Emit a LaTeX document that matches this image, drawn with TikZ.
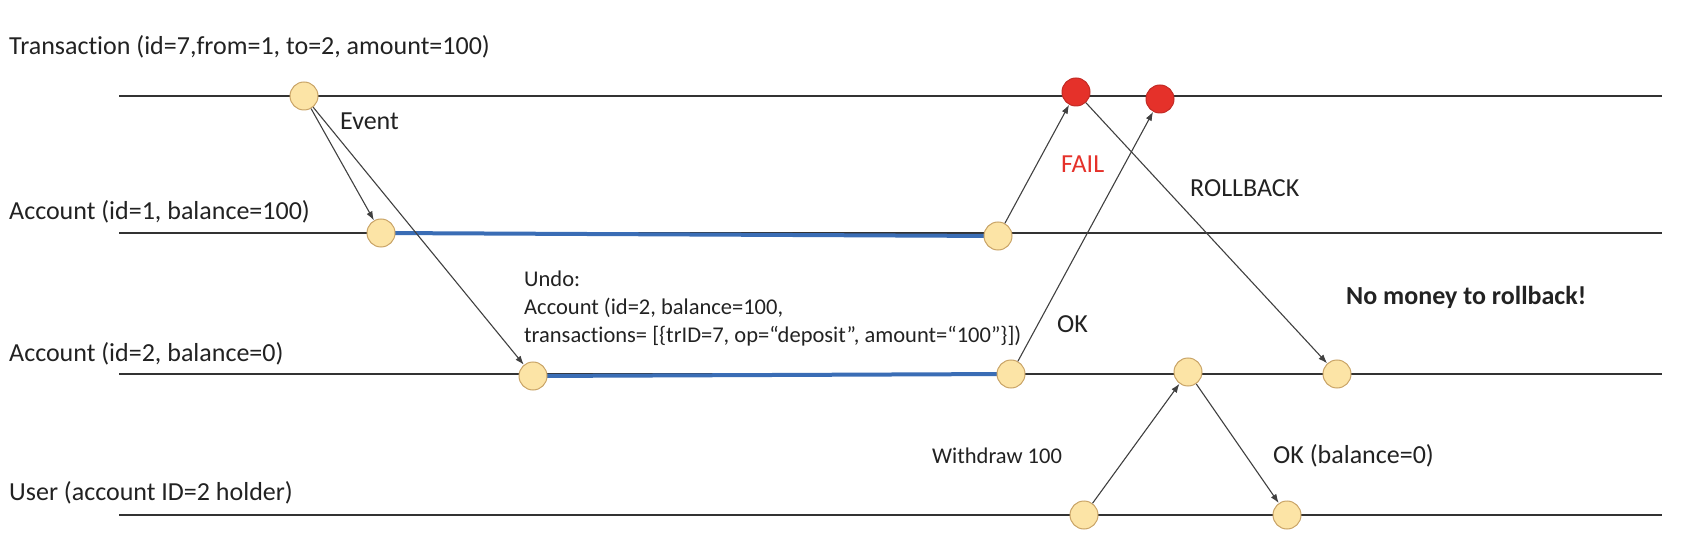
\documentclass[tikz,border=0pt]{standalone}
\usepackage{fontspec}
\setmainfont{Carlito}[Ligatures=NoCommon]
\usetikzlibrary{arrows.meta,backgrounds}
\definecolor{evfill}{HTML}{FCE4A6}
\definecolor{evline}{HTML}{C9A467}
\definecolor{failred}{HTML}{E5312A}
\definecolor{undoblue}{HTML}{3A6DB5}
\definecolor{txt}{HTML}{222222}
\newcommand{\lanewidth}{2pt}
\newcommand{\evsize}{28pt}
\tikzset{
  ev/.style={circle, fill=evfill, draw=evline, line width=1pt, minimum size=\evsize, inner sep=0pt},
  failev/.style={ev, fill=failred, draw=failred!85!black},
  lane/.style={draw=black!80, line width=\lanewidth},
  msg/.style={draw=black!75, line width=1.1pt, -{Latex[length=9pt,width=6.5pt]}},
  undo/.style={draw=undoblue, line width=4pt},
  lbl/.style={anchor=base west, inner sep=0pt, text=txt, font=\fontsize{26}{30}\selectfont},
  smalllbl/.style={lbl, font=\fontsize{22.5}{28}\selectfont},
}

\begin{document}
\begin{tikzpicture}[x=1pt, y=-1pt]
\useasboundingbox (0,0) rectangle (1700,545);
%lanes
\coordinate (ts) at (119,96);  \coordinate (te) at (1662,96);
\coordinate (as) at (119,233); \coordinate (ae) at (1662,233);
\coordinate (bs) at (119,374); \coordinate (be) at (1662,374);
\coordinate (us) at (119,515); \coordinate (ue) at (1662,515);
\node[lbl] (tl) at (9,55) {Transaction (id=7,from=1, to=2, amount=100)};
\node[lbl] (al) at (9,220) {Account (id=1, balance=100)};
\node[lbl] (bl) at (9,361) {Account (id=2, balance=0)};
\node[lbl] (ul) at (9,500) {User (account ID=2 holder)};
%events
\node[ev] (1) at (304,96) {};
\node[failev] (2) at (1076,92) {};
\node[failev] (3) at (1160,99) {};
\node[ev] (4) at (381,233) {};
\node[ev] (5) at (998,236) {};
\node[ev] (6) at (533,376) {};
\node[ev] (7) at (1011,374) {};
\node[ev] (8) at (1188,372) {};
\node[ev] (9) at (1337,374) {};
\node[ev] (10) at (1084,515) {};
\node[ev] (11) at (1287,515) {};
%labels
\node[lbl] (event) at (340,130) {Event};
\node[lbl, text=failred] (fail) at (1061,173) {FAIL};
\node[lbl] (rollback) at (1190,197) {ROLLBACK};
\node[smalllbl, align=left] (undotext) at (524,342) {Undo:\\Account (id=2, balance=100,\\transactions= [\{trID=7, op=“deposit”, amount=“100”\}])};
\node[lbl] (ok) at (1057,333) {OK};
\node[lbl, font=\fontsize{26}{30}\selectfont\bfseries] (nomoney) at (1346,305) {No money to rollback!};
\node[smalllbl] (withdraw) at (932,463) {Withdraw 100};
\node[lbl] (okbal) at (1273,463) {OK (balance=0)};
\begin{scope}[on background layer]
\draw[lane] (ts) -- (te);
\draw[lane] (as) -- (ae);
\draw[lane] (bs) -- (be);
\draw[lane] (us) -- (ue);
\draw[undo] (4.center) -- (5.center);
\draw[undo] (6.center) -- (7.center);
\end{scope}
%messages
\draw[msg] (1) -- (4);
\draw[msg] (1) -- (6);
\draw[msg] (5) -- (2);
\draw[msg] (7) -- (3);
\draw[msg] (2) -- (9);
\draw[msg] (10) -- (8);
\draw[msg] (8) -- (11);
\end{tikzpicture}
\end{document}
